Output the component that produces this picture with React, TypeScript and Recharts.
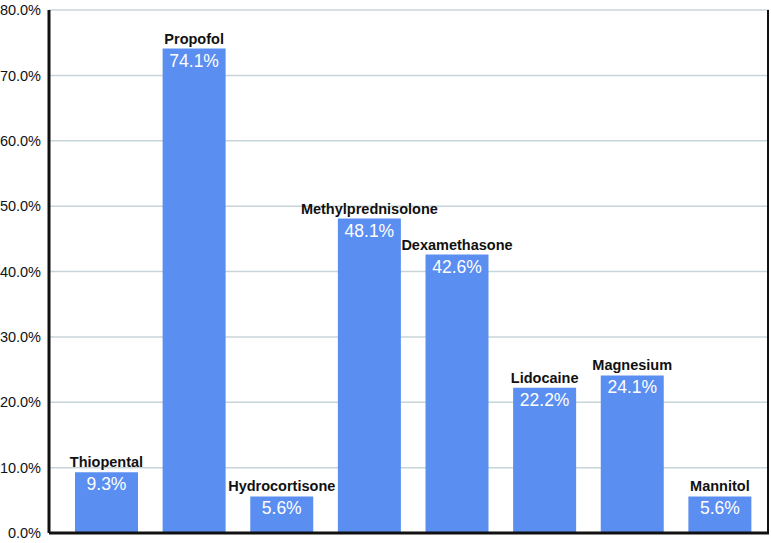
import { Bar, BarChart, CartesianGrid, LabelList, ReferenceLine, XAxis, YAxis } from "recharts";

const drugs = ["Thiopental", "Propofol", "Hydrocortisone", "Methylprednisolone", "Dexamethasone", "Lidocaine", "Magnesium", "Mannitol"];
const shares = [9.3, 74.1, 5.6, 48.1, 42.6, 22.2, 24.1, 5.6];
const yTicks = [0, 10, 20, 30, 40, 50, 60, 70, 80];

const data = drugs.map((name, i) => ({ name, value: shares[i] }));

const font = "'Liberation Sans', Arial, Helvetica, sans-serif";

function BarLabel(props: any) {
  const { x, y, width, index, value } = props;
  const cx = x + width / 2;
  return (
    <g>
      <text x={cx} y={y - 5} textAnchor="middle" fontFamily={font} fontSize={14.5} fontWeight="bold" fill="#111">
        {drugs[index]}
      </text>
      <text x={cx} y={y + 18} textAnchor="middle" fontFamily={font} fontSize={17.5} fill="#fff">
        {value.toFixed(1) + "%"}
      </text>
    </g>
  );
}

export default function App() {
  return (
    <div style={{ position: "absolute", left: 0, top: 0, width: 771, height: 543, background: "#fff" }}>
      <BarChart width={771} height={543} data={data} margin={{ top: 10, right: 2, bottom: 10, left: 0 }}>
        <CartesianGrid vertical={false} stroke="#c8d5d8" strokeWidth={1.5} />
        <CartesianGrid horizontal={false} verticalPoints={[768]} stroke="#111" strokeWidth={2} />
        <XAxis dataKey="name" hide padding={{ left: 14, right: 5 }} />
        <YAxis
          domain={[0, 80]}
          ticks={yTicks}
          width={49}
          tickLine={false}
          axisLine={{ stroke: "#111", strokeWidth: 3 }}
          tick={{ fill: "#111", fontSize: 14.5, fontFamily: font }}
          tickFormatter={(v: number) => v.toFixed(1) + "%"}
          interval={0}
        />
        <ReferenceLine y={0} stroke="#111" strokeWidth={3} />
        <Bar dataKey="value" fill="#5a8ef0" barSize={63} isAnimationActive={false}>
          <LabelList dataKey="value" content={BarLabel} />
        </Bar>
      </BarChart>
    </div>
  );
}
